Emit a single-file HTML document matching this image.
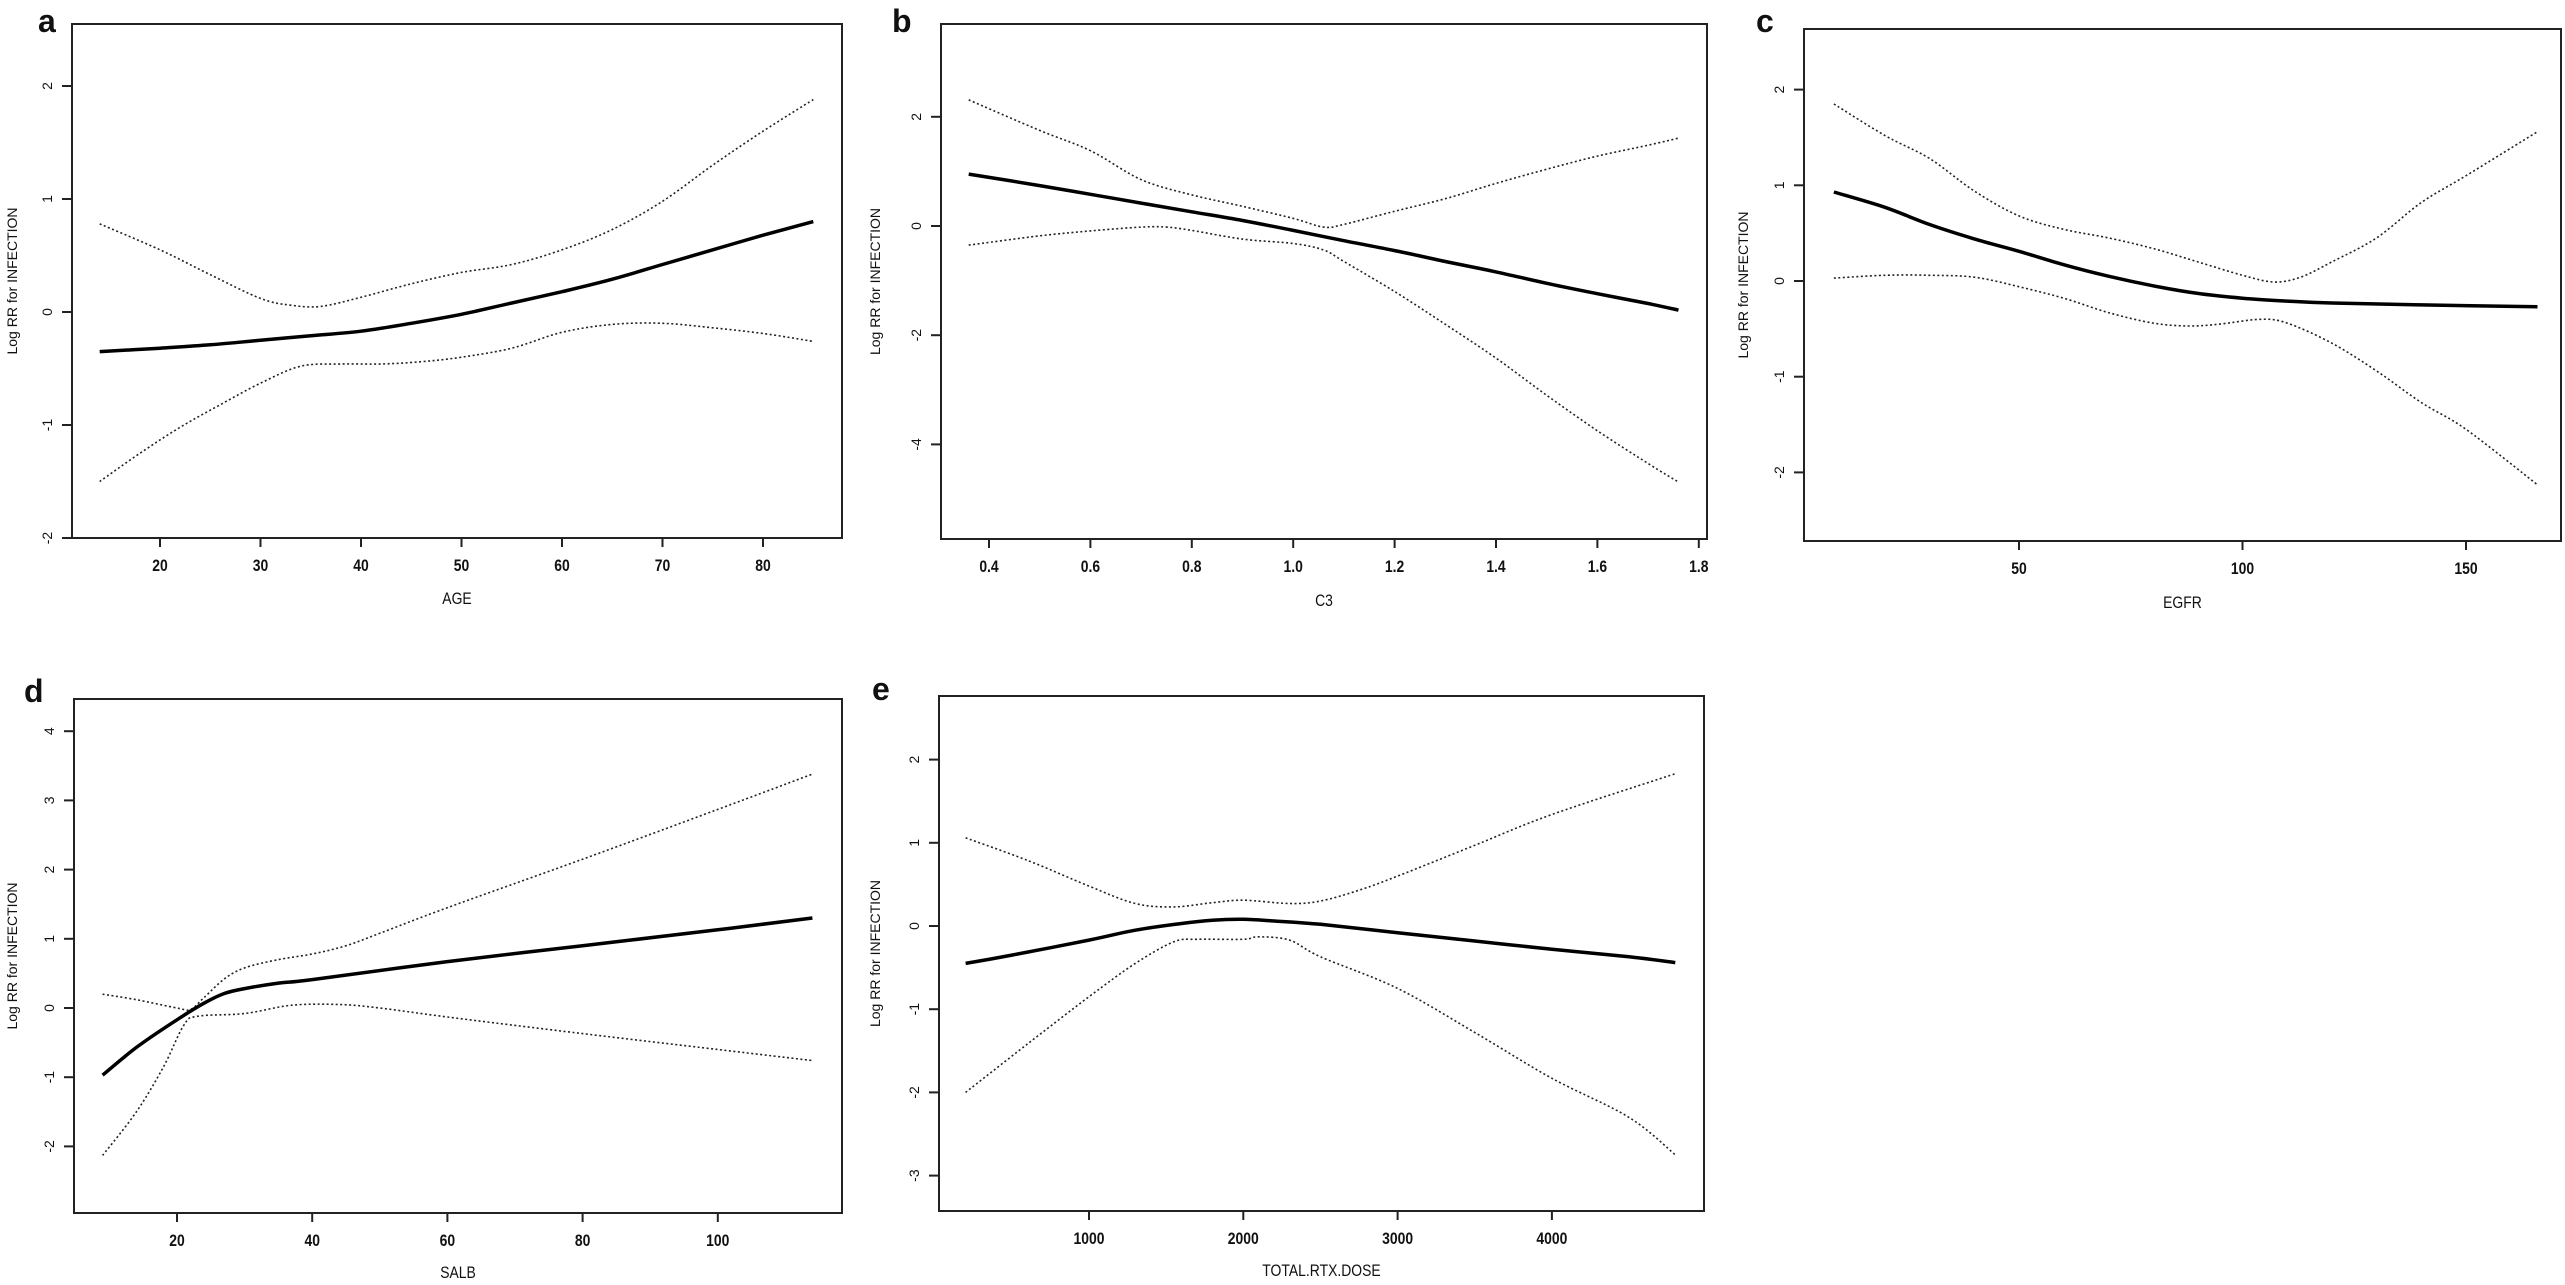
<!DOCTYPE html>
<html><head><meta charset="utf-8"><style>
html,body{margin:0;padding:0;background:#fff;}
svg{display:block;}
text{font-family:"Liberation Sans",sans-serif;fill:#111;}
</style></head><body>
<svg id="fig" width="2565" height="1285" viewBox="0 0 2565 1285"></svg>
<script>
// Panel a: AGE
const aFitX=[14,20,25,30,35,40,45,50,55,60,65,70,75,80,85];
const aFitY=[-0.35,-0.32,-0.29,-0.25,-0.21,-0.17,-0.1,-0.02,0.08,0.18,0.29,0.42,0.55,0.68,0.80];
const aUpX=[14,20,25,30,33,36,40,45,50,55,60,65,70,75,80,85];
const aUpY=[0.78,0.55,0.33,0.12,0.06,0.05,0.13,0.25,0.35,0.42,0.55,0.73,0.98,1.3,1.6,1.88];
const aLoX=[14,18,22,26,30,34,38,42,46,50,55,60,65,70,75,80,85];
const aLoY=[-1.5,-1.25,-1.02,-0.82,-0.63,-0.48,-0.46,-0.46,-0.44,-0.4,-0.32,-0.18,-0.11,-0.1,-0.14,-0.19,-0.26];
const aXTicks=[20,30,40,50,60,70,80];
const aYTicks=[-2,-1,0,1,2];
// Panel b: C3
const bFitX=[0.36,0.5,0.6,0.7,0.8,0.9,1.0,1.1,1.2,1.3,1.4,1.5,1.6,1.7,1.76];
const bFitY=[0.95,0.74,0.58,0.42,0.26,0.1,-0.08,-0.27,-0.45,-0.65,-0.84,-1.05,-1.24,-1.42,-1.54];
const bUpX=[0.36,0.5,0.6,0.7,0.8,0.9,1.0,1.06,1.1,1.2,1.3,1.4,1.5,1.6,1.7,1.76];
const bUpY=[2.31,1.75,1.38,0.85,0.57,0.36,0.14,-0.02,0.03,0.27,0.5,0.78,1.04,1.28,1.48,1.61];
const bLoX=[0.36,0.5,0.6,0.7,0.75,0.8,0.9,1.0,1.06,1.1,1.2,1.3,1.4,1.5,1.6,1.7,1.76];
const bLoY=[-0.35,-0.18,-0.09,-0.02,-0.02,-0.08,-0.24,-0.32,-0.44,-0.65,-1.2,-1.8,-2.42,-3.1,-3.75,-4.35,-4.69];
const bXTicks=["0.4","0.6","0.8","1.0","1.2","1.4","1.6","1.8"];
const bYTicks=[-4,-2,0,2];
// Panel c: EGFR
const cFitX=[8.6,20,30,40,50,60,70,80,90,100,110,120,140,166];
const cFitY=[0.93,0.77,0.59,0.44,0.31,0.17,0.05,-0.05,-0.13,-0.18,-0.21,-0.23,-0.25,-0.27];
const cUpX=[8.6,20,30,40,50,60,70,80,90,100,107,113,120,130,140,150,166];
const cUpY=[1.85,1.52,1.28,0.94,0.68,0.54,0.45,0.34,0.2,0.06,-0.01,0.04,0.2,0.45,0.82,1.1,1.56];
const cLoX=[8.6,20,30,40,50,60,70,80,88,95,104,110,120,130,140,150,166];
const cLoY=[0.03,0.06,0.06,0.04,-0.06,-0.18,-0.33,-0.44,-0.47,-0.45,-0.4,-0.44,-0.65,-0.94,-1.27,-1.55,-2.13];
const cXTicks=[50,100,150];
const cYTicks=[-2,-1,0,1,2];
// Panel d: SALB
const dFitX=[9,14,20,24,27,30,35,40,60,80,100,114];
const dFitY=[-0.97,-0.57,-0.17,0.07,0.21,0.28,0.36,0.41,0.67,0.9,1.13,1.3];
const dUpX=[9,14,20,22,24,27,30,35,40,45,50,60,80,100,114];
const dUpY=[0.2,0.12,0.0,-0.02,0.15,0.42,0.58,0.7,0.78,0.9,1.08,1.45,2.15,2.87,3.38];
const dLoX=[9,14,18,21,23,30,37,44,50,60,80,100,114];
const dLoY=[-2.13,-1.5,-0.85,-0.25,-0.12,-0.08,0.04,0.05,0.0,-0.13,-0.37,-0.6,-0.76];
const dXTicks=[20,40,60,80,100];
const dYTicks=[-2,-1,0,1,2,3,4];
// Panel e: TOTAL.RTX.DOSE
const eFitX=[200,500,1000,1300,1600,1800,2000,2200,2500,3000,3500,4000,4500,4800];
const eFitY=[-0.45,-0.35,-0.17,-0.05,0.03,0.07,0.08,0.06,0.02,-0.08,-0.18,-0.28,-0.37,-0.44];
const eUpX=[200,600,1000,1300,1550,1800,2000,2300,2500,2750,3000,3500,4000,4800];
const eUpY=[1.06,0.79,0.48,0.27,0.23,0.28,0.31,0.27,0.3,0.43,0.6,0.97,1.34,1.83];
const eLoX=[200,600,1000,1300,1550,1700,2000,2100,2300,2500,3000,3500,4000,4500,4800];
const eLoY=[-2.0,-1.42,-0.85,-0.45,-0.19,-0.16,-0.16,-0.13,-0.17,-0.37,-0.75,-1.28,-1.83,-2.3,-2.75];
const eXTicks=[1000,2000,3000,4000];
const eYTicks=[-3,-2,-1,0,1,2];

const NS="http://www.w3.org/2000/svg";
const svg=document.getElementById('fig');
function mk(tag,attrs,parent){const e=document.createElementNS(NS,tag);for(const k in attrs)e.setAttribute(k,attrs[k]);(parent||svg).appendChild(e);return e;}
function smooth(pts){
  let d="M"+pts[0][0].toFixed(1)+","+pts[0][1].toFixed(1);
  for(let i=0;i<pts.length-1;i++){
    const p0=pts[Math.max(0,i-1)],p1=pts[i],p2=pts[i+1],p3=pts[Math.min(pts.length-1,i+2)];
    const c1x=p1[0]+(p2[0]-p0[0])/6,c1y=p1[1]+(p2[1]-p0[1])/6;
    const c2x=p2[0]-(p3[0]-p1[0])/6,c2y=p2[1]-(p3[1]-p1[1])/6;
    d+=" C"+c1x.toFixed(1)+","+c1y.toFixed(1)+" "+c2x.toFixed(1)+","+c2y.toFixed(1)+" "+p2[0].toFixed(1)+","+p2[1].toFixed(1);
  }
  return d;
}
function panel(cfg){
  const g=mk('g',{});
  
  
  const [L,T,R,B]=cfg.box;
  const sx=v=>cfg.x0px+(v-cfg.x0)*cfg.xk;
  const sy=v=>cfg.y0px-v*cfg.yk;
  const box=mk('rect',{x:L,y:T,width:R-L,height:B-T,fill:'none',stroke:'#222','stroke-width':2},g);
  
  
  const lt=mk('text',{x:cfg.letter[0],y:cfg.letter[1],'font-size':32,'font-weight':'bold'},g);
  lt.textContent=cfg.id;
  
  
  cfg.xt.forEach(t=>{
    const v=parseFloat(t),x=sx(v);
    const tk=mk('line',{x1:x,y1:B,x2:x,y2:B+9,stroke:'#222','stroke-width':2},g);
    
    
    const tl=mk('text',{x:x,y:B+33,'font-size':17,'font-weight':'bold','text-anchor':'middle',transform:'translate('+x+',0) scale(0.82,1) translate('+(-x)+',0)'},g);
    tl.textContent=t;
    
    
  });
  cfg.yt.forEach(v=>{
    const y=sy(v);
    const tk=mk('line',{x1:L-10,y1:y,x2:L,y2:y,stroke:'#222','stroke-width':2},g);
    
    
    const tl=mk('text',{x:L-20,y:y,'font-size':14,'text-anchor':'middle',transform:'rotate(-90 '+(L-20)+' '+y+')'},g);
    tl.textContent=String(v);
    
    
  });
  const cx=(L+R)/2;
  const xt=mk('text',{x:cx,y:cfg.xtitleY,'font-size':17,'text-anchor':'middle',transform:'translate('+cx+',0) scale(0.82,1) translate('+(-cx)+',0)'},g);
  xt.textContent=cfg.xtitle;
  
  
  const cy=(T+B)/2;
  const yt=mk('text',{x:cfg.ylabX,y:cy,'font-size':14,'text-anchor':'middle',transform:'rotate(-90 '+cfg.ylabX+' '+cy+')'},g);
  yt.textContent='Log RR for INFECTION';
  
  
  const series=[[cfg.upX,cfg.upY,'upper-ci'],[cfg.loX,cfg.loY,'lower-ci'],[cfg.fitX,cfg.fitY,'fit-line']];
  series.forEach(([xs,ys,nm])=>{
    const pts=xs.map((v,i)=>[sx(v),sy(ys[i])]);
    const attrs={d:smooth(pts),fill:'none',stroke:'#000'};
    if(nm==='fit-line'){attrs['stroke-width']=3.5;}else{attrs['stroke-width']=1.6;attrs['stroke-dasharray']='2,2.5';attrs.stroke='#222';}
    const p=mk('path',attrs,g);
    
    
  });
}
panel({id:'a',box:[72,24,842,538],x0:20,x0px:160,xk:10.05,y0px:312,yk:113,xt:aXTicks.map(String),yt:aYTicks,
  fitX:aFitX,fitY:aFitY,upX:aUpX,upY:aUpY,loX:aLoX,loY:aLoY,xtitle:'AGE',xtitleY:604,ylabX:17,letter:[38,32]});
panel({id:'b',box:[941,24,1707,539],x0:0.4,x0px:989,xk:507,y0px:226,yk:54.6,xt:bXTicks,yt:bYTicks,
  fitX:bFitX,fitY:bFitY,upX:bUpX,upY:bUpY,loX:bLoX,loY:bLoY,xtitle:'C3',xtitleY:606,ylabX:880,letter:[892,32]});
panel({id:'c',box:[1804,29,2561,541],x0:50,x0px:2019,xk:4.47,y0px:281,yk:95.7,xt:cXTicks.map(String),yt:cYTicks,
  fitX:cFitX,fitY:cFitY,upX:cUpX,upY:cUpY,loX:cLoX,loY:cLoY,xtitle:'EGFR',xtitleY:608,ylabX:1748,letter:[1756,32]});
panel({id:'d',box:[74,699,842,1213],x0:20,x0px:177,xk:6.76,y0px:1008,yk:69.2,xt:dXTicks.map(String),yt:dYTicks,
  fitX:dFitX,fitY:dFitY,upX:dUpX,upY:dUpY,loX:dLoX,loY:dLoY,xtitle:'SALB',xtitleY:1278,ylabX:17,letter:[24,702]});
panel({id:'e',box:[939,696,1704,1211],x0:1000,x0px:1089,xk:0.1543,y0px:926,yk:83.2,xt:eXTicks.map(String),yt:eYTicks,
  fitX:eFitX,fitY:eFitY,upX:eUpX,upY:eUpY,loX:eLoX,loY:eLoY,xtitle:'TOTAL.RTX.DOSE',xtitleY:1276,ylabX:880,letter:[872,700]});
</script>
</body></html>
